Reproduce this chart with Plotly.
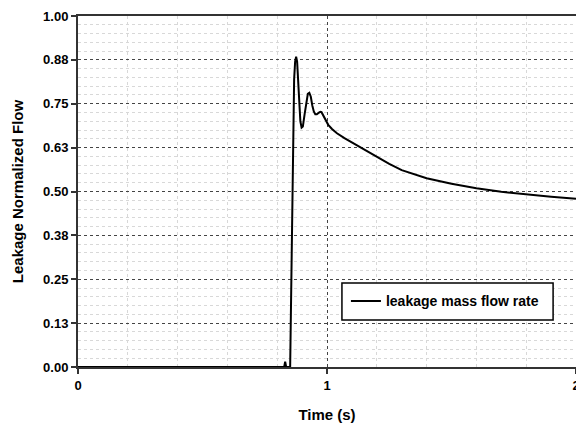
import plotly.graph_objects as go

# Leakage mass flow (normalized) versus time
time_s = [0.0, 0.50, 0.828, 0.832, 0.836, 0.852, 0.856, 0.860, 0.864, 0.868,
          0.872, 0.876, 0.880, 0.884, 0.888, 0.893, 0.898, 0.903, 0.910, 0.917,
          0.923, 0.929, 0.935, 0.941, 0.947, 0.953, 0.959, 0.966, 0.973, 0.978,
          0.985, 0.993, 1.005, 1.02, 1.04, 1.07, 1.10, 1.15, 1.20, 1.25,
          1.30, 1.40, 1.50, 1.60, 1.70, 1.80, 1.90, 2.00]
flow = [0.0, 0.0, 0.0, 0.015, 0.0, 0.0, 0.25, 0.50, 0.70, 0.82,
        0.87, 0.884, 0.87, 0.82, 0.75, 0.70, 0.682, 0.685, 0.72, 0.76,
        0.778, 0.781, 0.770, 0.745, 0.728, 0.720, 0.720, 0.724, 0.727, 0.726,
        0.716, 0.703, 0.690, 0.678, 0.666, 0.652, 0.640, 0.620, 0.598, 0.579,
        0.561, 0.538, 0.522, 0.509, 0.499, 0.491, 0.485, 0.479]

y_tick_vals = [0.0, 0.125, 0.25, 0.375, 0.5, 0.625, 0.75, 0.875, 1.0]
y_tick_text = ["0.00", "0.13", "0.25", "0.38", "0.50", "0.63", "0.75", "0.88", "1.00"]
x_tick_vals = [0, 1, 2]
x_tick_text = ["0", "1", "2"]

FONT = "Liberation Sans, Arial, sans-serif"

fig = go.Figure(go.Scatter(
    x=time_s, y=flow, mode="lines",
    name="leakage mass flow rate",
    line=dict(color="black", width=2),
))

fig.update_layout(
    width=576, height=426,
    margin=dict(l=78, r=0, t=16, b=59, autoexpand=False),
    paper_bgcolor="white", plot_bgcolor="white",
    font=dict(family=FONT, color="black", size=13, weight="bold"),
    showlegend=True,
    legend=dict(
        x=0.538, y=0.187, xanchor="left", yanchor="middle",
        bgcolor="rgba(0,0,0,0)", borderwidth=0,
        font=dict(family=FONT, size=14, weight="bold", color="black"),
    ),
    # framed white box behind the legend entry
    shapes=[dict(type="rect", xref="paper", yref="paper",
                 x0=0.530, x1=0.954, y0=0.134, y1=0.239,
                 line=dict(color="black", width=1.5), fillcolor="white",
                 layer="above")],
)

fig.update_xaxes(
    range=[0, 2], tickmode="array", tickvals=x_tick_vals, ticktext=x_tick_text,
    ticklabeloverflow="allow",
    showline=True, linecolor="#333", linewidth=2, mirror=True,
    ticks="outside", ticklen=5, tickcolor="#333", tickwidth=1.5,
    showgrid=True, gridcolor="#444", griddash="dot", gridwidth=1.2,
    zeroline=False, automargin=False,
    tickfont=dict(family=FONT, size=13, weight="bold"),
    title=dict(text="Time (s)", font=dict(family=FONT, size=15, weight="bold"), standoff=18),
    minor=dict(tickmode="linear", tick0=0, dtick=0.2, showgrid=True,
               gridcolor="#d8d8d8", griddash="dot", gridwidth=1, ticks=""),
)

fig.update_yaxes(
    range=[0, 1], tickmode="array", tickvals=y_tick_vals, ticktext=y_tick_text,
    showline=True, linecolor="#333", linewidth=2,
    ticks="outside", ticklen=5, tickcolor="#333", tickwidth=1.5,
    showgrid=True, gridcolor="#444", griddash="dot", gridwidth=1.2,
    zeroline=False, automargin=False,
    tickfont=dict(family=FONT, size=13, weight="bold"),
    title=dict(text="Leakage Normalized Flow", font=dict(family=FONT, size=15, weight="bold"), standoff=16),
    minor=dict(tickmode="linear", tick0=0, dtick=0.025, showgrid=True,
               gridcolor="#d8d8d8", griddash="dot", gridwidth=1, ticks=""),
)

fig.write_html("out.html")
